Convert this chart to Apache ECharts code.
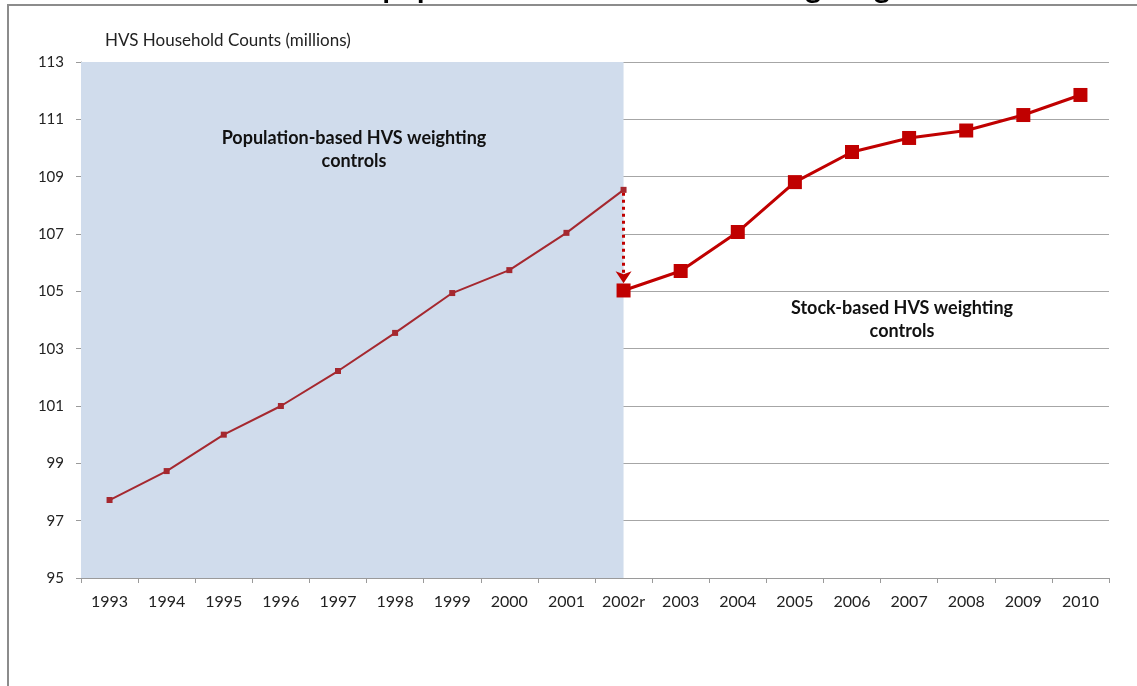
<!DOCTYPE html>
<html>
<head>
<meta charset="utf-8">
<script src="https://cdn.jsdelivr.net/npm/echarts@6/dist/echarts.min.js"></script>
<style>html,body{margin:0;padding:0;background:#fff}#c{width:1137px;height:686px}</style>
</head>
<body>
<div id="c"></div>
<script>
const categories = ['1993','1994','1995','1996','1997','1998','1999','2000','2001','2002r','2003','2004','2005','2006','2007','2008','2009','2010'];
const populationBased = [97.72, 98.73, 100.0, 101.0, 102.22, 103.55, 104.94, 105.74, 107.04, 108.54, null, null, null, null, null, null, null, null];
const stockBased = [null, null, null, null, null, null, null, null, null, 105.03, 105.71, 107.07, 108.81, 109.86, 110.35, 110.61, 111.15, 111.85];
const shadeSpan = [0, 9.5]; // population-based period, in category units
const yTicks = {min: 95, max: 113, interval: 2};

const font = 'Lato, "Open Sans", sans-serif';
const chart = echarts.init(document.getElementById('c'), null, {renderer: 'canvas'});
chart.setOption({
  animation: false,
  backgroundColor: '#fff',
  textStyle: {fontFamily: font},
  title: {
    text: 'HVS Household Counts (millions)',
    left: 100, top: 27,
    textStyle: {fontSize: 17, fontWeight: 'normal', color: '#222', fontFamily: font}
  },
  graphic: [
    {type: 'rect', shape: {x: 8, y: 5, width: 1140, height: 700}, style: {fill: 'none', stroke: '#8c8c8c', lineWidth: 2}, silent: true, z: -10},
    {type: 'text', x: 262, y: 3, style: {text: 'Effect of population controls on HVS weighting', font: 'bold 30px ' + font, fill: '#000', verticalAlign: 'bottom'}, z: 5},
    {type: 'text', x: 354, y: 150, style: {text: 'Population-based HVS weighting\ncontrols', font: 'bold 18px ' + font, fill: '#111', align: 'center', verticalAlign: 'middle', lineHeight: 23}, z: 10},
    {type: 'text', x: 902, y: 320, style: {text: 'Stock-based HVS weighting\ncontrols', font: 'bold 18px ' + font, fill: '#111', align: 'center', verticalAlign: 'middle', lineHeight: 23}, z: 10}
  ],
  grid: {left: 81, right: 28, top: 62, bottom: 108, containLabel: false},
  xAxis: [{
    type: 'category',
    data: categories,
    boundaryGap: true,
    axisLine: {lineStyle: {color: '#9a9a9a', width: 1}},
    axisTick: {show: true, length: 5, lineStyle: {color: '#9a9a9a'}},
    axisLabel: {fontSize: 16, color: '#222', margin: 16, fontFamily: font},
    splitLine: {show: false}
  }, {
    type: 'value', min: 0, max: categories.length, show: false
  }],
  yAxis: {
    type: 'value',
    min: yTicks.min, max: yTicks.max, interval: yTicks.interval,
    axisLine: {show: true, lineStyle: {color: '#9a9a9a'}},
    axisTick: {show: true, length: 5, lineStyle: {color: '#9a9a9a'}},
    axisLabel: {fontSize: 15, color: '#222', margin: 17, fontFamily: font},
    splitLine: {show: true, lineStyle: {color: '#a6a6a6', width: 1}}
  },
  series: [
    {
      name: 'shade', type: 'line', xAxisIndex: 1, data: [], silent: true,
      markArea: {
        silent: true,
        itemStyle: {color: '#d0dcec'},
        data: [[{xAxis: shadeSpan[0]}, {xAxis: shadeSpan[1]}]]
      },
      z: 0
    },
    {
      name: 'Population-based', type: 'line', data: populationBased,
      symbol: 'rect', symbolSize: 6, showSymbol: true,
      lineStyle: {color: '#a5282f', width: 2},
      itemStyle: {color: '#a5282f'},
      z: 3,
      markLine: {
        silent: true,
        symbol: ['none', 'arrow'], symbolSize: [12, 12],
        lineStyle: {type: [3, 4], color: '#c00000', width: 3},
        label: {show: false},
        data: [[{coord: ['2002r', populationBased[9] - 0.1]}, {coord: ['2002r', stockBased[9] + 0.25]}]]
      }
    },
    {
      name: 'Stock-based', type: 'line', data: stockBased,
      symbol: 'rect', symbolSize: 14, showSymbol: true,
      lineStyle: {color: '#c00000', width: 3},
      itemStyle: {color: '#c00000'},
      z: 4
    }
  ]
});
</script>
</body>
</html>
